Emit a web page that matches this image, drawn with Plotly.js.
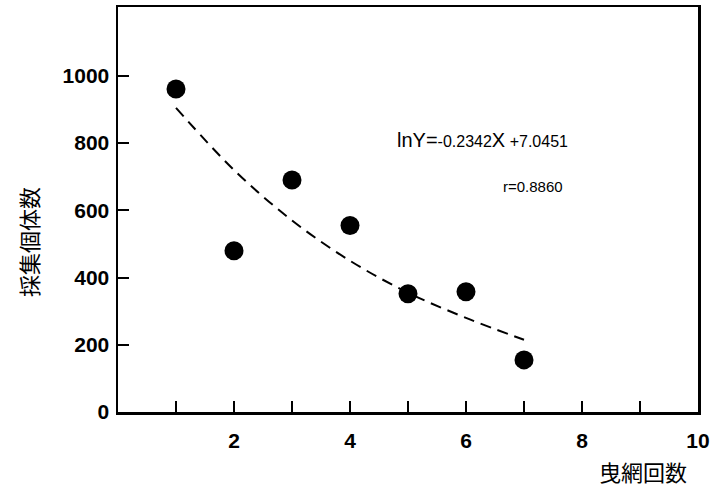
<!DOCTYPE html>
<html>
<head>
<meta charset="utf-8">
<script src="https://cdn.plot.ly/plotly-3.0.1.min.js"></script>
<style>html,body{margin:0;padding:0;background:#fff;}#chart{width:710px;height:488px;}</style>
</head>
<body>
<div id="chart"></div>
<script>
// Observed data
const hauls = [1, 2, 3, 4, 5, 6, 7];
const counts = [961, 480, 690, 555, 352, 358, 155];
// Fitted curve (lnY = -0.2342X + 7.0451)
const fitX = [1, 2, 3, 4, 5, 6, 7];
const fitY = [905, 720, 570, 450, 355, 280, 215];
// Tick labels
const xTickVals = [1, 2, 3, 4, 5, 6, 7, 8, 9, 10];
const xTickText = ['', '2', '', '4', '', '6', '', '8', '', '10'];
const yTickVals = [0, 200, 400, 600, 800, 1000];
const yTickText = ['0', '200', '400', '600', '800', '1000'];
const xTitle = '曳網回数';
const yTitle = '採集個体数';
const eqText = '<span style="font-size:20px">lnY=</span>-0.2342<span style="font-size:20px">X</span> +7.0451';
const rText = 'r=0.8860';

const tickFont = {family: 'Liberation Sans, Arial, sans-serif', size: 21, color: '#000', weight: 900};
const cjkFont = {family: 'Noto Sans CJK JP, sans-serif', size: 22, color: '#000'};

const data = [
  {x: fitX, y: fitY, mode: 'lines', type: 'scatter',
   line: {color: '#000', width: 2, dash: '11px,7px', shape: 'spline'}, hoverinfo: 'skip'},
  {x: hauls, y: counts, mode: 'markers', type: 'scatter',
   marker: {color: '#000', size: 19}}
];

const layout = {
  width: 710, height: 488,
  margin: {l: 118, r: 12, t: 7, b: 76},
  paper_bgcolor: '#fff', plot_bgcolor: '#fff',
  showlegend: false,
  xaxis: {
    range: [0, 10], tickvals: xTickVals, ticktext: xTickText,
    ticks: 'inside', ticklen: 11, tickwidth: 2, tickcolor: '#000',
    showline: true, linecolor: '#000', linewidth: 2.5, mirror: true,
    showgrid: false, zeroline: false, tickfont: tickFont, ticklabelstandoff: 8
  },
  yaxis: {
    range: [0, 1205], tickvals: yTickVals, ticktext: yTickText,
    ticks: 'inside', ticklen: 11, tickwidth: 2, tickcolor: '#000',
    showline: true, linecolor: '#000', linewidth: 2.5, mirror: true,
    showgrid: false, zeroline: false, tickfont: tickFont, ticklabelstandoff: 2
  },
  annotations: [
    {xref: 'paper', yref: 'paper', x: 0.985, y: -0.145, xanchor: 'right', yanchor: 'middle',
     text: xTitle, showarrow: false, font: cjkFont},
    {xref: 'paper', yref: 'paper', x: -0.155, y: 0.42, xanchor: 'center', yanchor: 'middle',
     text: yTitle, textangle: -90, showarrow: false, font: cjkFont},
    {xref: 'x', yref: 'y', x: 4.78, y: 810, xanchor: 'left', yanchor: 'middle',
     text: eqText, showarrow: false,
     font: {family: 'Liberation Sans, Arial, sans-serif', size: 16, color: '#000'}},
    {xref: 'x', yref: 'y', x: 6.6, y: 670, xanchor: 'left', yanchor: 'middle',
     text: rText, showarrow: false,
     font: {family: 'Liberation Sans, Arial, sans-serif', size: 15, color: '#000'}}
  ]
};

Plotly.newPlot('chart', data, layout, {displayModeBar: false, staticPlot: true});
</script>
</body>
</html>
